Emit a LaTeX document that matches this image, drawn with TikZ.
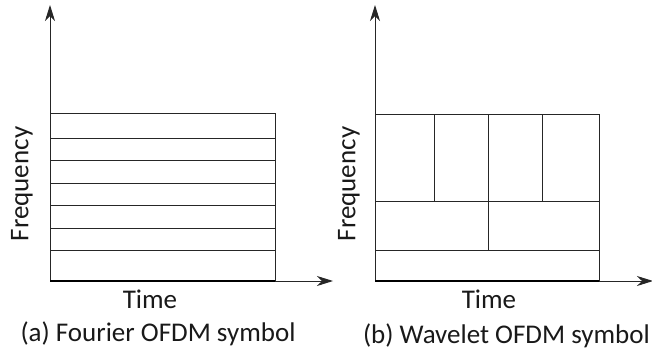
\documentclass[tikz,border=0pt]{standalone}
\usepackage{fontspec}
\setmainfont{Carlito}
\usetikzlibrary{arrows.meta}
\begin{document}
\begin{tikzpicture}[x=1pt,y=-1pt,
  thinline/.style={line width=1pt,black!85},
  axis/.style={line width=1pt,black!85,-{Stealth[length=16pt,width=10pt,inset=5pt]}},
  baseline/.style={line width=2.4pt,black},
  lbl/.style={font=\fontsize{27}{30}\selectfont,inner sep=0pt,text=black!90}]
\useasboundingbox (0,0) rectangle (652,353);
% ---------- (a) Fourier ----------
\coordinate (aO) at (50,281);
\coordinate (aY) at (50,5);
\coordinate (aX) at (333,281);
\draw[axis] (aO) -- (aY);
\draw[axis] (aO) -- (aX);
\draw[thinline] (50,113) rectangle (275,281);
\foreach \y in {138,160,183,205,228,250}
  \draw[thinline] (50,\y) -- (275,\y);
\draw[baseline] (50,281) -- (275,281);
\node[lbl,rotate=90] (afreq) at (22,184) {Frequency};
\node[lbl] (atime) at (150,299) {Time};
\node[lbl] (acap) at (158,334) {(a) Fourier OFDM symbol};
% ---------- (b) Wavelet ----------
\coordinate (bO) at (375,281);
\coordinate (bY) at (375,5);
\coordinate (bX) at (653,281);
\draw[axis] (bO) -- (bY);
\draw[axis] (bO) -- (bX);
\draw[thinline] (375,114) rectangle (599,281);
\draw[thinline] (375,201) -- (599,201);
\draw[thinline] (375,250) -- (599,250);
\foreach \x in {434,488,542}
  \draw[thinline] (\x,114) -- (\x,201);
\draw[thinline] (488,201) -- (488,250);
\draw[baseline] (375,281) -- (599,281);
\node[lbl,rotate=90] (bfreq) at (349,184) {Frequency};
\node[lbl] (btime) at (489,299) {Time};
\node[lbl,anchor=east] (bcap) at (650,336) {(b) Wavelet OFDM symbol};
\end{tikzpicture}
\end{document}
